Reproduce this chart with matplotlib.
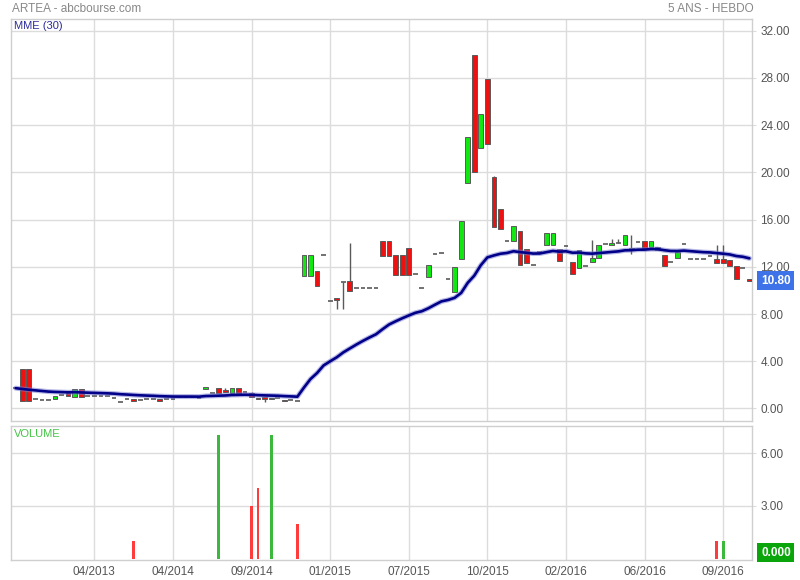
import matplotlib
matplotlib.use("Agg")
import matplotlib.pyplot as plt
import numpy as np
import pandas as pd

plt.rcParams['font.family'] = ['Liberation Sans', 'DejaVu Sans']

# ---------------- data ----------------
opens = [
    1.72, 3.32, 3.32, 0.77, 0.69, 0.69, 0.77, 1.13, 1.33, 0.99,
    1.62, 1.05, 1.05, 1.05, 1.02, 0.85, 0.52, 0.77, 0.80, 0.69,
    0.77, 0.77, 0.80, 0.77, 0.77, 1.00, 1.00, 1.00, 0.92, 1.67,
    1.28, 1.70, 1.54, 1.33, 1.70, 1.36, 1.33, 0.91, 0.97, 0.77,
    0.85, 0.71, 0.71, 0.62, 11.22, 11.22, 11.62, 12.97, 9.08, 9.39,
    10.75, 10.77, 10.18, 10.22, 10.22, 10.22, 14.22, 14.22, 12.97, 12.97,
    13.62, 11.36, 10.22, 11.12, 13.12, 13.19, 10.94, 9.87, 12.69, 19.08,
    29.96, 22.04, 27.92, 19.56, 16.86, 14.15, 14.18, 15.00, 13.48, 12.18,
    13.25, 13.87, 13.87, 13.48, 13.72, 12.44, 11.93, 12.10, 12.44, 12.74,
    13.90, 13.87, 13.98, 13.87, 13.47, 14.09, 14.15, 13.64, 13.70, 12.97,
    12.38, 12.74, 13.92, 12.63, 12.63, 12.63, 12.91, 12.63, 12.63, 12.55,
    12.10, 11.93, 11.00]

closes = [
    1.72, 0.67, 0.67, 0.77, 0.69, 0.69, 1.02, 1.13, 1.08, 1.62,
    0.99, 1.05, 1.05, 1.05, 1.02, 0.85, 0.52, 0.77, 0.62, 0.69,
    0.77, 0.77, 0.64, 0.77, 0.77, 1.00, 1.00, 1.00, 0.92, 1.80,
    1.28, 1.33, 1.36, 1.70, 1.33, 1.36, 0.94, 0.77, 0.82, 0.88,
    0.85, 0.60, 0.71, 0.62, 12.97, 12.97, 10.37, 12.97, 9.08, 9.22,
    10.75, 9.95, 10.18, 10.22, 10.22, 10.22, 12.92, 12.92, 11.32, 11.32,
    11.32, 11.36, 10.22, 12.12, 13.12, 13.19, 10.94, 11.95, 15.84, 23.02,
    20.02, 24.97, 22.38, 15.36, 15.19, 14.15, 15.42, 12.15, 12.35, 12.18,
    13.25, 14.82, 14.82, 12.49, 13.72, 11.39, 13.45, 12.10, 12.77, 13.87,
    13.90, 14.01, 13.98, 14.66, 13.57, 14.09, 13.53, 14.15, 13.45, 12.06,
    12.38, 13.25, 13.92, 12.63, 12.63, 12.63, 12.91, 12.35, 12.35, 12.10,
    11.00, 11.93, 10.80]

highs = [
    1.72, 3.32, 3.32, 0.77, 0.69, 0.69, 1.02, 1.13, 1.33, 1.62,
    1.62, 1.05, 1.05, 1.05, 1.02, 0.85, 0.52, 0.77, 0.80, 0.69,
    0.77, 0.77, 0.80, 0.77, 0.77, 1.00, 1.00, 1.00, 0.92, 1.80,
    1.28, 1.70, 1.70, 1.70, 1.70, 1.36, 1.42, 0.91, 0.97, 0.88,
    0.85, 0.71, 0.71, 0.62, 12.97, 12.97, 11.62, 12.97, 9.08, 9.39,
    10.75, 13.98, 10.18, 10.22, 10.22, 10.22, 14.22, 14.22, 12.97, 12.97,
    13.62, 11.36, 10.22, 12.12, 13.12, 13.19, 10.94, 11.95, 15.84, 23.02,
    29.96, 24.97, 27.92, 19.72, 16.86, 14.15, 15.42, 15.00, 13.48, 12.18,
    13.25, 14.82, 14.82, 13.48, 13.72, 12.44, 13.45, 12.10, 14.24, 13.87,
    13.90, 14.38, 14.38, 14.66, 14.66, 14.09, 14.15, 14.15, 13.70, 12.97,
    12.38, 13.25, 13.92, 12.63, 12.63, 12.63, 12.91, 13.81, 13.81, 12.55,
    12.10, 11.93, 11.00]

lows = [
    1.72, 0.67, 0.67, 0.77, 0.69, 0.69, 0.77, 1.13, 1.08, 0.99,
    0.99, 1.05, 1.05, 1.05, 1.02, 0.85, 0.52, 0.77, 0.62, 0.69,
    0.77, 0.77, 0.64, 0.77, 0.77, 1.00, 1.00, 1.00, 0.92, 1.67,
    1.28, 1.33, 1.36, 1.33, 1.33, 1.36, 0.94, 0.77, 0.57, 0.77,
    0.85, 0.60, 0.71, 0.62, 11.22, 11.22, 10.37, 12.97, 9.08, 8.43,
    8.43, 9.95, 10.18, 10.22, 10.22, 10.22, 12.92, 12.92, 11.32, 11.32,
    11.32, 11.36, 10.22, 11.12, 13.12, 13.19, 10.94, 9.87, 12.69, 19.08,
    20.02, 22.04, 22.38, 15.36, 15.19, 14.15, 14.18, 12.15, 12.35, 12.18,
    13.25, 13.87, 13.87, 12.49, 13.72, 11.39, 11.93, 12.10, 12.44, 12.74,
    13.90, 13.87, 13.98, 13.87, 13.12, 14.09, 13.53, 13.64, 13.45, 12.06,
    12.38, 12.74, 13.92, 12.63, 12.63, 12.63, 12.91, 12.35, 12.35, 12.10,
    11.00, 11.93, 10.80]

vol_index = [18, 31, 36, 37, 39, 43, 107, 108]
vol_values = [1, 7, 3, 4, 7, 2, 1, 1]
vol_up = [False, True, False, False, True, False, False, True]

tick_index = [12, 24, 36, 48, 60, 72, 84, 96, 108]
tick_labels = ["04/2013", "04/2014", "09/2014", "01/2015", "07/2015",
               "10/2015", "02/2016", "06/2016", "09/2016"]
price_ticks = [0, 4, 8, 12, 16, 20, 24, 28, 32]
vol_ticks = [3, 6]

mme_span = 30
last_label = "10.80"
vol_label = "0.000"

# ---------------- figure ----------------
W, H = 800, 580
fig = plt.figure(figsize=(W / 100, H / 100), dpi=100)
fig.patch.set_facecolor('white')

def fx(px):
    return px / W

def fy(py):
    return 1 - py / H

L, R = 11, 752
ax = fig.add_axes([fx(L), fy(421), fx(R - L), fy(19) - fy(421)])
axv = fig.add_axes([fx(L), fy(560), fx(R - L), fy(426) - fy(560)])

grid_c = '#dcdcdc'
frame_c = '#cfcfcf'
text_c = '#555555'

n = len(closes)
x = np.arange(n)
o = np.array(opens)
c = np.array(closes)
hi = np.array(highs)
lo = np.array(lows)

for a in (ax, axv):
    a.set_xlim(-0.72, 112.4)
    a.set_xticks(tick_index)
    a.grid(True, color=grid_c, linewidth=1.0)
    a.set_axisbelow(True)
    for s in a.spines.values():
        s.set_color(frame_c)
        s.set_linewidth(1.0)
    a.yaxis.tick_right()
    a.tick_params(axis='y', length=3, color=grid_c, labelsize=8.5,
                  labelcolor=text_c, pad=3)
    a.tick_params(axis='x', length=0)

ax.set_ylim(-1.06, 32.98)
ax.set_yticks(price_ticks)
ax.set_yticklabels([f"{v:.2f}" for v in price_ticks])
ax.set_xticklabels([])

# candles
wbody = 0.72
up_c, dn_c, edge_c = '#11e811', '#ee1111', '#5a5a5a'
flat = np.isclose(o, c)
ax.vlines(x, lo, hi, color=edge_c, linewidth=1.0, zorder=2)
body = ~flat
cols = np.where(c >= o, up_c, dn_c)
ax.bar(x[body], np.abs(c - o)[body], bottom=np.minimum(o, c)[body],
       width=wbody, color=cols[body], edgecolor=edge_c, linewidth=0.7,
       zorder=3)
ax.hlines(c[flat], x[flat] - wbody / 2, x[flat] + wbody / 2,
          color=edge_c, linewidth=1.2, zorder=3)

# MME
mme = pd.Series(closes).ewm(span=mme_span, adjust=False).mean()
ax.plot(x, mme, color='#7b7bd0', linewidth=3.6, alpha=0.55, zorder=4,
        solid_capstyle='round')
ax.plot(x, mme, color='#000088', linewidth=1.9, zorder=5,
        solid_capstyle='round')

# volume
axv.set_ylim(-0.06, 7.53)
axv.set_yticks(vol_ticks)
axv.set_yticklabels([f"{v:.2f}" for v in vol_ticks])
axv.set_xticklabels(tick_labels)
axv.tick_params(axis='x', labelsize=8.5, labelcolor=text_c, pad=4)
vcols = ['#3cb83c' if u else '#ff3b3b' for u in vol_up]
axv.bar(vol_index, vol_values, width=0.42, color=vcols, zorder=3)

# texts
fig.text(fx(12), fy(9), "ARTEA - abcbourse.com", fontsize=8.5,
         color='#888888', va='center', ha='left')
fig.text(fx(754), fy(9), "5 ANS - HEBDO", fontsize=8.5,
         color='#888888', va='center', ha='right')
fig.text(fx(14), fy(26), "MME (30)", fontsize=8, color='#2a2a9a',
         va='center', ha='left')
fig.text(fx(14), fy(434), "VOLUME", fontsize=8, color='#44c444',
         va='center', ha='left')

# value boxes
ax.annotate(last_label, xy=(1.0, closes[-1]), xycoords=('axes fraction', 'data'),
            xytext=(6.5, 0), textcoords='offset points', fontsize=8.5,
            fontweight='bold', color='white', va='center', ha='left',
            bbox=dict(boxstyle='square,pad=0.3', fc='#3d72e8', ec='none'),
            annotation_clip=False)
axv.annotate(vol_label, xy=(1.0, 0), xycoords=('axes fraction', 'data'),
             xytext=(6.5, 4.5), textcoords='offset points', fontsize=8.5,
             fontweight='bold', color='white', va='center', ha='left',
             bbox=dict(boxstyle='square,pad=0.3', fc='#0aa50a', ec='none'),
             annotation_clip=False)

fig.savefig('out.png', dpi=100, facecolor='white')
